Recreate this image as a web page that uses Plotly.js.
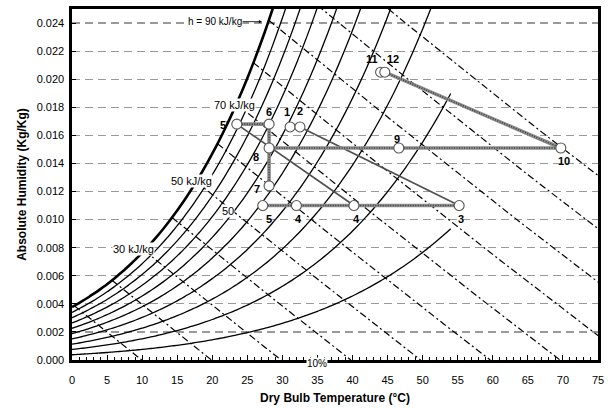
<!DOCTYPE html>
<html>
<head>
<meta charset="utf-8">
<script src="https://cdn.plot.ly/plotly-3.0.1.min.js"></script>
<style>
  html, body { margin: 0; padding: 0; background: #fff; }
  #chart { width: 608px; height: 408px; }
</style>
</head>
<body>
<div id="chart"></div>
<script>
// Relative humidity curves, %
const rhLevels = [10, 20, 30, 40, 50, 60, 70, 80, 90, 100];
// Constant enthalpy lines, kJ/kg dry air
const enthalpyLevels = [10, 20, 30, 40, 50, 60, 70, 80, 90, 100, 110];

// Process states: id, printed label, dry bulb (°C), absolute humidity (kg/kg)
const stateIds  = ['1', '2', '3', '4a', '4b', '5', "5'", '6', '7', '8', '9', '10', '11', '12'];
const stateText = ['1', '2', '3', '4', '4', '5', "5'", '6', '7', '8', '9', '10', '11', '12'];
const stateTemp = [31.1, 32.5, 55.2, 32.0, 40.2, 27.2, 23.5, 28.1, 28.1, 28.1, 46.6, 69.7, 44.0, 44.6];
const stateHum  = [0.0166, 0.0166, 0.0110, 0.0110, 0.0110, 0.0110, 0.0168, 0.0168, 0.0124, 0.0151, 0.0151, 0.0151, 0.0205, 0.0205];

// Process paths between states
const hatchedPaths = [["5'", '6'], ['6', '8', '7'], ['8', '9', '10'], ['5', '4a', '4b', '3'], ['12', '10']];
const plainPaths   = [["5'", '4b'], ['2', '3']];

// Label offsets (px) for each state label, relative to its marker
const labelOffsets = {
  '1': [-3, 15], '2': [0, 16], '3': [2, -13], '4a': [2, -13], '4b': [3, -13],
  '5': [6, -13], "5'": [-12, -1], '6': [0, 12], '7': [-12, -3], '8': [-13, -9],
  '9': [-2, 9], '10': [3, -13], '11': [-9, 13], '12': [8, 13]
};

// ---- psychrometric relations (sea level) ----
const P_ATM = 101.325;
function pSat(T) { return 0.61078 * Math.exp(17.27 * T / (T + 237.3)); }
function humRatio(T, rh) { const pv = rh / 100 * pSat(T); return 0.622 * pv / (P_ATM - pv); }
function enthalpy(T, w) { return 1.006 * T + w * (2501 + 1.86 * T); }
function tempOnEnthalpy(h, w) { return (h - 2501 * w) / (1.006 + 1.86 * w); }
function satTempForEnthalpy(h) {
  let lo = -10, hi = 60;
  for (let i = 0; i < 60; i++) {
    const mid = (lo + hi) / 2;
    if (enthalpy(mid, humRatio(mid, 100)) > h) hi = mid; else lo = mid;
  }
  return (lo + hi) / 2;
}

const traces = [];
const FONT = 'Arial, "Liberation Sans", sans-serif';

// Enthalpy lines from the saturation curve down to zero humidity
enthalpyLevels.forEach(h => {
  const Ts = satTempForEnthalpy(h);
  const ws = humRatio(Ts, 100);
  const xs = [], ys = [];
  const n = 30;
  for (let i = 0; i <= n; i++) {
    const w = ws * (1 - i / n);
    xs.push(tempOnEnthalpy(h, w));
    ys.push(w);
  }
  traces.push({
    x: xs, y: ys, mode: 'lines', hoverinfo: 'skip', showlegend: false,
    line: { color: '#000', width: 1.2, dash: '7px,3px,2px,3px' }
  });
});

// Relative humidity curves
rhLevels.forEach(rh => {
  const tMax = rh === 100 ? 30 : 54;
  const xs = [], ys = [];
  for (let T = 0; T <= tMax + 1e-9; T += 0.5) {
    xs.push(T);
    ys.push(humRatio(T, rh));
  }
  traces.push({
    x: xs, y: ys, mode: 'lines', hoverinfo: 'skip', showlegend: false,
    line: { color: '#000', width: rh === 100 ? 2.6 : 1.3, shape: 'spline' }
  });
});

function pathCoords(path) {
  const xs = [], ys = [];
  path.forEach(id => {
    const k = stateIds.indexOf(id);
    xs.push(stateTemp[k]);
    ys.push(stateHum[k]);
  });
  return { xs, ys };
}

// Plain process lines
plainPaths.forEach(p => {
  const c = pathCoords(p);
  traces.push({
    x: c.xs, y: c.ys, mode: 'lines', hoverinfo: 'skip', showlegend: false,
    line: { color: '#505050', width: 1.7 }
  });
});

// Textured process lines: grey band with a fine dotted core
hatchedPaths.forEach(p => {
  const c = pathCoords(p);
  traces.push({
    x: c.xs, y: c.ys, mode: 'lines', hoverinfo: 'skip', showlegend: false,
    line: { color: '#8e8e8e', width: 3.6 }
  });
  traces.push({
    x: c.xs, y: c.ys, mode: 'lines', hoverinfo: 'skip', showlegend: false,
    line: { color: '#3e3e3e', width: 1.6, dash: '1px,1.5px' }
  });
});

// State markers
traces.push({
  x: stateTemp, y: stateHum, mode: 'markers', hoverinfo: 'skip', showlegend: false,
  marker: { symbol: 'circle', size: 10, color: '#fff', line: { color: '#555', width: 1.1 } }
});

const annotations = [];
stateIds.forEach((id, k) => {
  const off = labelOffsets[id];
  annotations.push({
    x: stateTemp[k], y: stateHum[k], xref: 'x', yref: 'y', text: '<b>' + stateText[k] + '</b>',
    showarrow: false, xshift: off[0], yshift: off[1],
    font: { family: FONT, size: 11, color: '#000' }
  });
});

const textLabels = [
  { text: '70 kJ/kg', x: 23.1, y: 0.01816 },
  { text: '50 kJ/kg', x: 17.0, y: 0.01275 },
  { text: '30 kJ/kg', x: 8.7, y: 0.0079 },
  { text: '50', x: 22.2, y: 0.0106 }
];
textLabels.forEach(t => annotations.push({
  x: t.x, y: t.y, xref: 'x', yref: 'y', text: t.text, showarrow: false,
  bgcolor: '#fff', borderpad: 0,
  font: { family: FONT, size: 11, color: '#000' }
}));

annotations.push({
  x: 27.1, y: 0.0241, xref: 'x', yref: 'y', text: 'h = 90 kJ/kg',
  showarrow: true, ax: -47, ay: 0, arrowhead: 2, arrowsize: 0.8, arrowwidth: 0.8,
  arrowcolor: '#000', bgcolor: '#fff', borderpad: 0,
  font: { family: FONT, size: 10, color: '#000' }
});
annotations.push({
  x: 34.9, y: 0, xref: 'x', yref: 'y', text: '10%', showarrow: false,
  yshift: -3, bgcolor: '#fff', borderpad: 0,
  font: { family: FONT, size: 10, color: '#000' }
});

const layout = {
  width: 608, height: 408,
  margin: { l: 72, r: 10, t: 9, b: 48 },
  paper_bgcolor: '#fff', plot_bgcolor: '#fff',
  font: { family: FONT, size: 11, color: '#000' },
  showlegend: false,
  xaxis: {
    range: [0, 75], tick0: 0, dtick: 5,
    ticks: 'inside', ticklen: 5, tickwidth: 1, tickcolor: '#000',
    minor: { ticks: 'inside', dtick: 1, ticklen: 3, tickwidth: 1, tickcolor: '#000', showgrid: false },
    showline: true, linewidth: 2.6, linecolor: '#000', mirror: true,
    showgrid: false, zeroline: false,
    ticklabelstandoff: 8,
    tickfont: { family: FONT, size: 11, color: '#000' },
    title: { text: '<b>Dry Bulb Temperature (°C)</b>', font: { family: FONT, size: 12, color: '#000' }, standoff: 9 }
  },
  yaxis: {
    range: [0, 0.025], tick0: 0, dtick: 0.002, tickformat: '.3f',
    ticks: 'inside', ticklen: 4, tickwidth: 1, tickcolor: '#000',
    showline: true, linewidth: 2.6, linecolor: '#000', mirror: true,
    showgrid: true, gridcolor: '#9a9a9a', gridwidth: 1.2, griddash: '8px,5px',
    zeroline: false,
    ticklabelstandoff: 3,
    tickfont: { family: FONT, size: 11, color: '#000' },
    title: { text: '<b>Absolute Humidity (Kg/Kg)</b>', font: { family: FONT, size: 12, color: '#000' }, standoff: 8 }
  },
  annotations: annotations
};

Plotly.newPlot('chart', traces, layout, { staticPlot: true, displayModeBar: false });
</script>
</body>
</html>
